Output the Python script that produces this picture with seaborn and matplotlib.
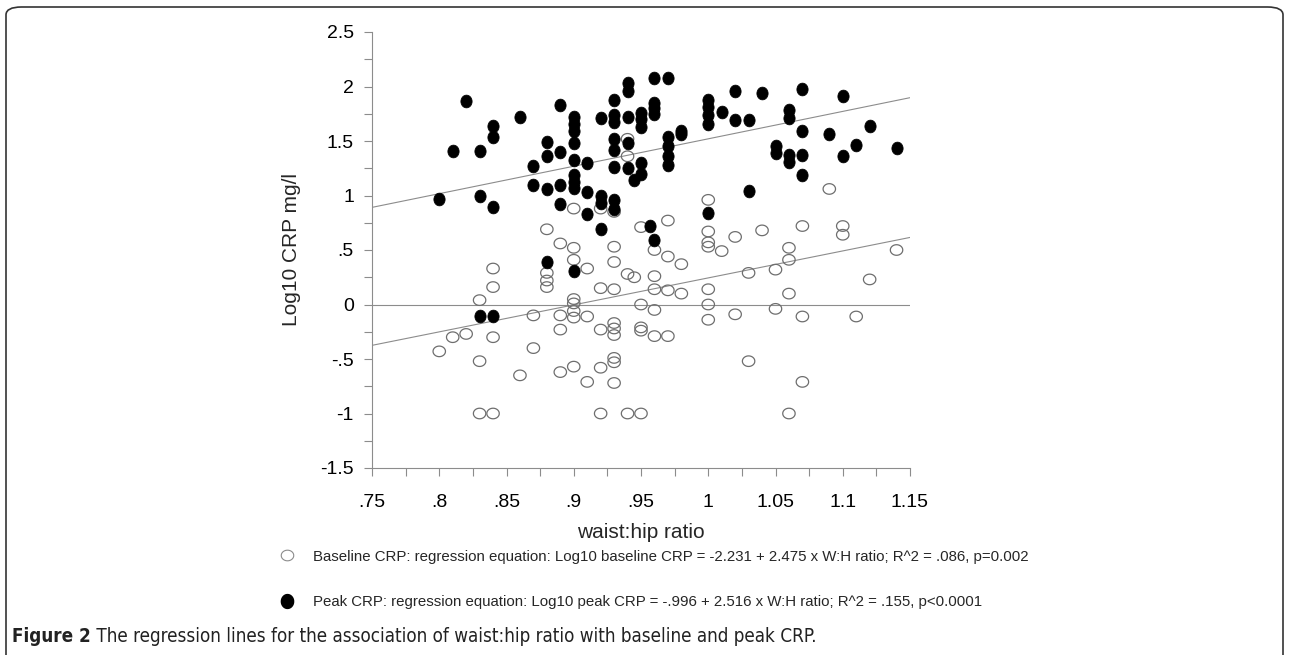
import numpy as np
import pandas as pd
import matplotlib.pyplot as plt
import seaborn as sns
from matplotlib.path import Path
from matplotlib.lines import Line2D
from matplotlib.patches import FancyBboxPatch

# values
baseline_x = [0.80, 0.81, 0.82, 0.83, 0.83, 0.83, 0.84, 0.84, 0.84, 0.84, 0.86, 0.87, 0.87,
              0.88, 0.88, 0.88, 0.88, 0.89, 0.89, 0.89, 0.89, 0.90, 0.90, 0.90, 0.90, 0.90,
              0.90, 0.90, 0.90, 0.91, 0.91, 0.91, 0.92, 0.92, 0.92, 0.92, 0.92, 0.93, 0.93,
              0.93, 0.93, 0.93, 0.93, 0.93, 0.93, 0.93, 0.93, 0.94, 0.94, 0.94, 0.945, 0.94,
              0.95, 0.95, 0.95, 0.95, 0.95, 0.96, 0.96, 0.96, 0.96, 0.96, 0.97, 0.97, 0.97,
              0.97, 0.98, 0.98, 1.00, 1.00, 1.00, 1.00, 1.00, 1.00, 1.00, 1.01, 1.02, 1.02,
              1.03, 1.03, 1.04, 1.05, 1.05, 1.06, 1.06, 1.06, 1.06, 1.07, 1.07, 1.07, 1.09,
              1.10, 1.10, 1.11, 1.12, 1.14]
baseline_y = [-0.43, -0.30, -0.27, 0.04, -0.52, -1.00, 0.33, 0.16, -0.30, -1.00, -0.65, -0.10, -0.40,
              0.69, 0.29, 0.22, 0.16, 0.56, -0.10, -0.23, -0.62, 0.88, 0.52, 0.41, 0.05, 0.01,
              -0.06, -0.12, -0.57, 0.33, -0.11, -0.71, 0.88, 0.15, -0.23, -0.58, -1.00, 0.85, 0.53,
              0.39, 0.14, -0.17, -0.22, -0.28, -0.49, -0.53, -0.72, 1.52, 1.36, 0.28, 0.25, -1.00,
              0.71, 0.00, -0.21, -0.24, -1.00, 0.50, 0.26, 0.14, -0.05, -0.29, 0.77, 0.44, 0.13,
              -0.29, 0.37, 0.10, 0.96, 0.67, 0.57, 0.53, 0.14, 0.00, -0.14, 0.49, 0.62, -0.09,
              0.29, -0.52, 0.68, 0.32, -0.04, 0.52, 0.41, 0.10, -1.00, 0.72, -0.11, -0.71, 1.06,
              0.72, 0.64, -0.11, 0.23, 0.50]

peak_x = [0.80, 0.81, 0.82, 0.83, 0.83, 0.83, 0.84, 0.84, 0.84, 0.84, 0.86, 0.87, 0.87,
          0.88, 0.88, 0.88, 0.88, 0.89, 0.89, 0.89, 0.89, 0.90, 0.90, 0.90, 0.90, 0.90,
          0.90, 0.90, 0.90, 0.90, 0.91, 0.91, 0.91, 0.92, 0.92, 0.92, 0.92, 0.93, 0.93,
          0.93, 0.93, 0.93, 0.93, 0.93, 0.93, 0.94, 0.94, 0.94, 0.94, 0.94, 0.945, 0.95,
          0.95, 0.95, 0.95, 0.95, 0.957, 0.96, 0.96, 0.96, 0.96, 0.96, 0.97, 0.97, 0.97,
          0.97, 0.97, 0.98, 0.98, 1.00, 1.00, 1.00, 1.00, 1.00, 1.01, 1.02, 1.02, 1.03,
          1.03, 1.04, 1.05, 1.05, 1.06, 1.06, 1.06, 1.06, 1.07, 1.07, 1.07, 1.07, 1.09,
          1.10, 1.10, 1.11, 1.12, 1.14]
peak_y = [0.97, 1.41, 1.87, 1.41, 1.00, -0.11, 1.64, 1.54, 0.89, -0.11, 1.72, 1.27, 1.10,
          1.49, 1.36, 1.06, 0.39, 1.83, 1.40, 1.10, 0.92, 1.72, 1.66, 1.59, 1.48, 1.33,
          1.19, 1.12, 1.07, 0.31, 1.30, 1.03, 0.83, 1.71, 1.00, 0.93, 0.69, 1.88, 1.74,
          1.67, 1.52, 1.42, 1.26, 0.96, 0.88, 2.03, 1.96, 1.72, 1.48, 1.25, 1.14, 1.76,
          1.70, 1.63, 1.30, 1.20, 0.72, 2.08, 1.85, 1.80, 1.75, 0.59, 2.08, 1.54, 1.45,
          1.36, 1.28, 1.59, 1.56, 1.88, 1.81, 1.74, 1.66, 0.84, 1.77, 1.96, 1.69, 1.69,
          1.04, 1.94, 1.45, 1.39, 1.78, 1.71, 1.37, 1.31, 1.98, 1.59, 1.37, 1.19, 1.56,
          1.91, 1.36, 1.46, 1.64, 1.44]

# regression equations from the legend
baseline_coef = [-2.231, 2.475]
peak_coef = [-0.996, 2.516]

x_ticks = [0.75, 0.8, 0.85, 0.9, 0.95, 1.0, 1.05, 1.1, 1.15]
x_ticklabels = ['.75', '.8', '.85', '.9', '.95', '1', '1.05', '1.1', '1.15']
y_ticks = [-1.5, -1, -0.5, 0, 0.5, 1, 1.5, 2, 2.5]
y_ticklabels = ['-1.5', '-1', '-.5', '0', '.5', '1', '1.5', '2', '2.5']

legend_labels = [
    'Baseline CRP: regression equation: Log10 baseline CRP = -2.231 + 2.475 x W:H ratio; R^2 = .086, p=0.002',
    'Peak CRP: regression equation: Log10 peak CRP = -.996 + 2.516 x W:H ratio; R^2 = .155, p<0.0001',
]
caption_bold = 'Figure 2'
caption_rest = ' The regression lines for the association of waist:hip ratio with baseline and peak CRP.'

sns.set_style('white')
plt.rcParams['font.family'] = ['Liberation Sans', 'DejaVu Sans']

def ellipse_marker(w, h):
    t = np.linspace(0, 2 * np.pi, 60)
    return Path(np.column_stack([w * np.cos(t), h * np.sin(t)]))

open_marker = ellipse_marker(1.0, 0.85)
dot_marker = ellipse_marker(0.88, 1.0)

fig = plt.figure(figsize=(12.9, 6.55), dpi=100)
ax = fig.add_axes([372 / 1290, 1 - 468 / 655, 538 / 1290, 436 / 655])

grey = '#8c8c8c'
df_base = pd.DataFrame({'ratio': baseline_x, 'crp': baseline_y})
df_peak = pd.DataFrame({'ratio': peak_x, 'crp': peak_y})

ax.axhline(0, color=grey, lw=0.8, zorder=1)
xl = np.array([x_ticks[0], x_ticks[-1]])
for coef in (baseline_coef, peak_coef):
    line = pd.DataFrame({'ratio': xl, 'crp': coef[0] + coef[1] * xl})
    sns.lineplot(data=line, x='ratio', y='crp', ax=ax, color=grey, lw=0.8, zorder=1)

sns.scatterplot(data=df_base, x='ratio', y='crp', ax=ax, marker=open_marker, s=80,
                color='none', edgecolor='#6e6e6e', linewidth=0.9, zorder=2)
sns.scatterplot(data=df_peak, x='ratio', y='crp', ax=ax, marker=dot_marker, s=85,
                color='black', edgecolor='black', linewidth=0.5, zorder=3)

ax.set_xlim(0.75, 1.15)
ax.set_ylim(-1.5, 2.5)
ax.set_xticks(x_ticks)
ax.set_xticklabels(x_ticklabels)
ax.set_yticks(y_ticks)
ax.set_yticklabels(y_ticklabels)
ax.set_xticks(np.arange(0.775, 1.15, 0.05), minor=True)
ax.set_yticks(np.arange(-1.25, 2.5, 0.5), minor=True)
ax.tick_params(axis='both', which='both', direction='out', length=6, width=0.8,
               color=grey, labelsize=14, labelcolor='black')
ax.tick_params(axis='x', which='both', bottom=True, pad=13)
ax.tick_params(axis='y', which='both', left=True, pad=7)
ax.set_xlabel('waist:hip ratio', fontsize=15, labelpad=8)
ax.set_ylabel('Log10 CRP mg/l', fontsize=15, labelpad=14)
sns.despine(ax=ax)
for side in ('left', 'bottom'):
    ax.spines[side].set_color(grey)
    ax.spines[side].set_linewidth(0.8)

handles = [
    Line2D([], [], ls='none', marker=open_marker, markersize=9, markerfacecolor='none',
           markeredgecolor='#8c8c8c', markeredgewidth=0.8),
    Line2D([], [], ls='none', marker=dot_marker, markersize=10, markerfacecolor='black',
           markeredgecolor='black'),
]
fig.legend(handles, legend_labels, loc='upper left', bbox_to_anchor=(262 / 1290, 1 - 536 / 655),
           frameon=False, fontsize=10.8, handletextpad=1.0, labelspacing=2.1, handlelength=1.5)

# caption with bold lead-in, condensed face
cap_font = ['DejaVu Sans']
t1 = fig.text(12 / 1290, 1 - 636 / 655, caption_bold, fontsize=13.5, fontweight='bold',
              family=cap_font, fontstretch='condensed', color='#222222', va='center', ha='left')
fig.canvas.draw()
bb = t1.get_window_extent()
fig.text(bb.x1 / 1290, 1 - 636 / 655, caption_rest, fontsize=13.5, family=cap_font,
         fontstretch='condensed', color='#222222', va='center', ha='left')

# rounded frame around the figure panel, its lower edge just past the crop
frame = FancyBboxPatch((6 / 1290, -8 / 655), 1277 / 1290, 656 / 655,
                       boxstyle='round,pad=0,rounding_size=0.012', transform=fig.transFigure,
                       fill=False, edgecolor='#333333', lw=1.2)
fig.patches.append(frame)

fig.savefig('out.png', dpi=100)
